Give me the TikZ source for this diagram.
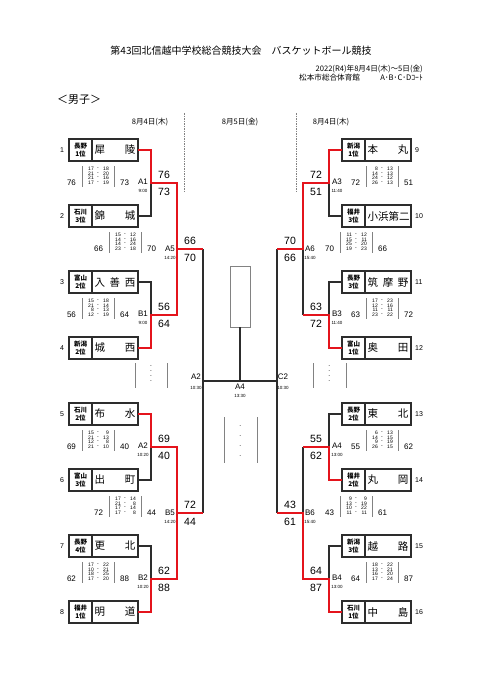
\documentclass[tikz,border=0pt]{standalone}
\usepackage{fontspec}
\setmainfont{Noto Sans CJK JP}
\newfontfamily\numf{Liberation Sans}
\definecolor{rc}{RGB}{228,20,28}
\definecolor{lc}{RGB}{45,45,45}
\definecolor{gc}{RGB}{130,130,130}
\tikzset{
  ln/.style={draw=lc, line width=1.1pt},
  rd/.style={draw=rc, line width=1.5pt},
  pref/.style={draw=lc, line width=1.1pt, minimum width=23pt, minimum height=22pt, inner sep=0pt, outer sep=0pt, font=\fontsize{6.5}{8.5}\selectfont\bfseries, align=center},
  tname/.style={draw=lc, line width=1.1pt, minimum width=46pt, minimum height=22pt, inner sep=0pt, outer sep=0pt, font=\fontsize{10.5}{12}\selectfont},
  sc/.style={font=\numf\fontsize{10.5}{12}\selectfont, inner sep=0pt},
  tot/.style={font=\numf\fontsize{8}{9}\selectfont, inner sep=0pt},
  setn/.style={font=\numf\fontsize{5}{5}\selectfont, inner sep=0pt},
  mlab/.style={font=\numf\fontsize{8}{9}\selectfont, inner sep=0pt},
  tlab/.style={font=\numf\fontsize{4.5}{5}\selectfont, inner sep=0pt},
  num/.style={font=\numf\fontsize{7}{8}\selectfont, inner sep=0pt},
  dl/.style={draw=gc, line width=0.6pt},
  sep/.style={draw=gc, line width=0.8pt, dash pattern=on 1.5pt off 1pt},
  hdr/.style={font=\fontsize{7.6}{8.5}\selectfont, inner sep=0pt},
}
\newcommand\teamL[5]{%
  \node[pref, anchor=west] (t#1p) at (69,#2) {#3\\#4};
  \node[tname, anchor=west] (t#1) at (t#1p.east) {\hbox to 41pt{#5}};
  \node[num] (n#1) at (62,#2) {#1};
}
\newcommand\teamR[5]{%
  \node[pref, anchor=west] (t#1p) at (342,#2) {#3\\#4};
  \node[tname, anchor=west] (t#1) at (t#1p.east) {\hbox to 41pt{#5}};
  \node[num, anchor=west] (n#1) at (415,#2) {#1};
}
\newcommand\mdetail[6]{%
  \draw[dl] (#2,#3-17) -- (#2,#3+4);
  \draw[dl] (#2+32,#3-17) -- (#2+32,#3+4);
  \node[tot] (#1lt) at (#2-10.5,#3) {#4};
  \node[tot] (#1rt) at (#2+42.5,#3) {#5};
  \foreach \sa/\sb [count=\i] in {#6} {
    \node[setn,anchor=east] (#1a\i) at (#2+12,#3-14+4.5*\i-4.5) {\sa};
    \node[setn] (#1d\i) at (#2+16,#3-14+4.5*\i-4.5) {-};
    \node[setn,anchor=east] (#1b\i) at (#2+27,#3-14+4.5*\i-4.5) {\sb};
  }
}
\newcommand\mlabel[5]{%
  \node[mlab] (#1) at (#2,#3) {#4};
  \node[tlab] (#1t) at (#2,#3+9) {#5};
}
\newcommand\scores[5]{%
  \node[sc] (#1u) at (#2,#3-8.5) {#4};
  \node[sc] (#1d) at (#2,#3+9) {#5};
}
\begin{document}
\begin{tikzpicture}[x=1pt,y=-1pt]
\useasboundingbox[fill=white] (0,0) rectangle (481,680);
% heading
\node[font=\fontsize{10}{12}\selectfont, inner sep=0pt] (title) at (241,51) {第43回北信越中学校総合競技大会　バスケットボール競技};
\node[hdr, anchor=east] (date) at (423,69) {2022(R4)年8月4日(木)～5日(金)};
\node[hdr, anchor=west] (venue) at (299,78) {松本市総合体育館};
\node[hdr, anchor=east] (courts) at (423,78) {A･B･C･Dｺｰﾄ};
\node[font=\fontsize{11}{12}\selectfont, inner sep=0pt, anchor=west] (men) at (57,100) {＜男子＞};
\node[hdr] (d1) at (150,122) {8月4日(木)};
\node[hdr] (d2) at (240,122) {8月5日(金)};
\node[hdr] (d3) at (331,122) {8月4日(木)};
\draw[sep] (184,113) -- (184,193);
\draw[sep] (296,113) -- (296,193);
% teams left
\teamL{1}{150}{長野}{1位}{犀\hfill 陵}
\teamL{2}{216}{石川}{3位}{錦\hfill 城}
\teamL{3}{282}{富山}{2位}{入\hfill 善\hfill 西}
\teamL{4}{348}{新潟}{2位}{城\hfill 西}
\teamL{5}{414}{石川}{2位}{布\hfill 水}
\teamL{6}{480}{富山}{3位}{出\hfill 町}
\teamL{7}{546}{長野}{4位}{更\hfill 北}
\teamL{8}{612}{福井}{1位}{明\hfill 道}
% teams right
\teamR{9}{150}{新潟}{1位}{本\hfill 丸}
\teamR{10}{216}{福井}{3位}{小\hfill 浜\hfill 第\hfill 二}
\teamR{11}{282}{長野}{3位}{筑\hfill 摩\hfill 野}
\teamR{12}{348}{富山}{1位}{奥\hfill 田}
\teamR{13}{414}{長野}{2位}{東\hfill 北}
\teamR{14}{480}{福井}{2位}{丸\hfill 岡}
\teamR{15}{546}{新潟}{3位}{越\hfill 路}
\teamR{16}{612}{石川}{1位}{中\hfill 島}
% junctions
\coordinate (a1) at (151,183); \coordinate (a1r) at (177,183);
\coordinate (b1) at (151,315); \coordinate (b1r) at (177,315);
\coordinate (a5l) at (177,249); \coordinate (a5r) at (203,249);
\coordinate (a2) at (151,447); \coordinate (a2r) at (177,447);
\coordinate (b2) at (151,579); \coordinate (b2r) at (177,579);
\coordinate (b5l) at (177,513); \coordinate (b5r) at (203,513);
\coordinate (a3) at (329,183); \coordinate (a3l) at (303,183);
\coordinate (b3) at (329,315); \coordinate (b3l) at (303,315);
\coordinate (a6r) at (303,249); \coordinate (a6l) at (277,249);
\coordinate (a4) at (329,447); \coordinate (a4l) at (303,447);
\coordinate (b4) at (329,579); \coordinate (b4l) at (303,579);
\coordinate (b6r) at (303,513); \coordinate (b6l) at (277,513);
\coordinate (sA2) at (203,381); \coordinate (sC2) at (277,381); \coordinate (fin) at (240,381);
% champion box
\node[draw=gc, line width=0.9pt, minimum width=20pt, minimum height=61pt, inner sep=0pt] (win) at (240,296.5) {};
% black lines
\draw[ln] (t2.east) -| (a1);
\draw[ln] (t3.east) -| (b1);
\draw[ln] (t6.east) -| (a2);
\draw[ln] (t7.east) -| (b2);
\draw[ln] (a5r) -- (sA2) -- (b5r);
\draw[ln] (t10p.west) -| (a3);
\draw[ln] (t11p.west) -| (b3);
\draw[ln] (t13p.west) -| (a4);
\draw[ln] (t15p.west) -| (b4);
\draw[ln] (b3l) -- (a6r);
\draw[ln] (a4l) -- (b6r);
\draw[ln] (a6l) -- (sC2) -- (b6l);
\draw[ln] (sA2) -- (fin) -- (sC2);
\draw[ln] (fin) -- (win.south);
% red lines
\draw[rd] (t1.east) -| (a1) -- (a1r) -- (a5l);
\draw[rd] (t4.east) -| (b1) -- (b1r) -- (a5l) -- (a5r);
\draw[rd] (t5.east) -| (a2) -- (a2r) -- (b5l);
\draw[rd] (t8.east) -| (b2) -- (b2r) -- (b5l) -- (b5r);
\draw[rd] (t9p.west) -| (a3) -- (a3l) -- (a6r) -- (a6l);
\draw[rd] (t12p.west) -| (b3) -- (b3l);
\draw[rd] (t14p.west) -| (a4) -- (a4l);
\draw[rd] (t16p.west) -| (b4) -- (b4l) -- (b6r) -- (b6l);
% scores at bracket
\scores{sA1}{164}{183}{76}{73}
\scores{sB1}{164}{315}{56}{64}
\scores{sAA2}{164}{447}{69}{40}
\scores{sB2}{164}{579}{62}{88}
\scores{sA5}{190}{249}{66}{70}
\scores{sB5}{190}{513}{72}{44}
\scores{sA3}{316}{183}{72}{51}
\scores{sB3}{316}{315}{63}{72}
\scores{sA4}{316}{447}{55}{62}
\scores{sB4}{316}{579}{64}{87}
\scores{sA6}{290}{249}{70}{66}
\scores{sB6}{290}{513}{43}{61}
% match labels
\mlabel{mA1}{143}{182}{A1}{9:00}
\mlabel{mB1}{143}{314}{B1}{9:00}
\mlabel{mA2}{143}{446}{A2}{10:20}
\mlabel{mB2}{143}{578}{B2}{10:20}
\mlabel{mA5}{170}{249}{A5}{14:20}
\mlabel{mB5}{170}{513}{B5}{14:20}
\mlabel{mA3}{337}{182}{A3}{11:40}
\mlabel{mB3}{337}{314}{B3}{11:40}
\mlabel{mA4}{337}{446}{A4}{13:00}
\mlabel{mB4}{337}{578}{B4}{13:00}
\mlabel{mA6}{310}{249}{A6}{15:40}
\mlabel{mB6}{310}{513}{B6}{15:40}
\node[mlab] (fA2) at (196,376.5) {A2};
\node[tlab] (fA2t) at (196,388) {10:30};
\node[mlab] (fC2) at (283,376.5) {C2};
\node[tlab] (fC2t) at (283,388) {10:30};
\node[mlab] (fA4) at (240,387) {A4};
\node[tlab] (fA4t) at (240,395.5) {13:30};
% match details
\mdetail{dA1}{82}{183}{76}{73}{17/18,21/20,21/16,17/19}
\mdetail{dB1}{82}{315}{56}{64}{15/18,21/14,8/13,12/19}
\mdetail{dA2}{82}{447}{69}{40}{15/9,21/13,12/8,21/10}
\mdetail{dB2}{82}{579}{62}{88}{17/22,10/21,18/25,17/20}
\mdetail{dA5}{109}{249}{66}{70}{15/12,14/16,14/24,23/18}
\mdetail{dB5}{109}{513}{72}{44}{17/14,21/8,17/14,17/8}
\mdetail{dA3}{366}{183}{72}{51}{8/13,14/13,24/12,26/13}
\mdetail{dB3}{366}{315}{63}{72}{17/23,12/16,11/11,23/22}
\mdetail{dA4}{366}{447}{55}{62}{6/13,14/15,9/19,26/15}
\mdetail{dB4}{366}{579}{64}{87}{18/22,13/21,16/20,17/24}
\mdetail{dA6}{340}{249}{70}{66}{11/12,15/11,25/20,19/23}
\mdetail{dB6}{340}{513}{43}{61}{9/9,13/19,10/22,11/11}
% empty detail tables of day 2
\draw[dl] (135,363) -- (135,388); \draw[dl] (167,363) -- (167,388);
\draw[dl] (313,363) -- (313,388); \draw[dl] (346,363) -- (346,388);
\draw[dl] (224,417) -- (224,463); \draw[dl] (257,417) -- (257,463);
\foreach \yy [count=\i] in {367,372,377,382} {
  \node[setn] (eL\i) at (151,\yy) {-};
  \node[setn] (eR\i) at (329.5,\yy) {-};
}
\foreach \yy [count=\i] in {427,437,447,457} {
  \node[setn] (eM\i) at (240.5,\yy) {-};
}
\end{tikzpicture}
\end{document}
